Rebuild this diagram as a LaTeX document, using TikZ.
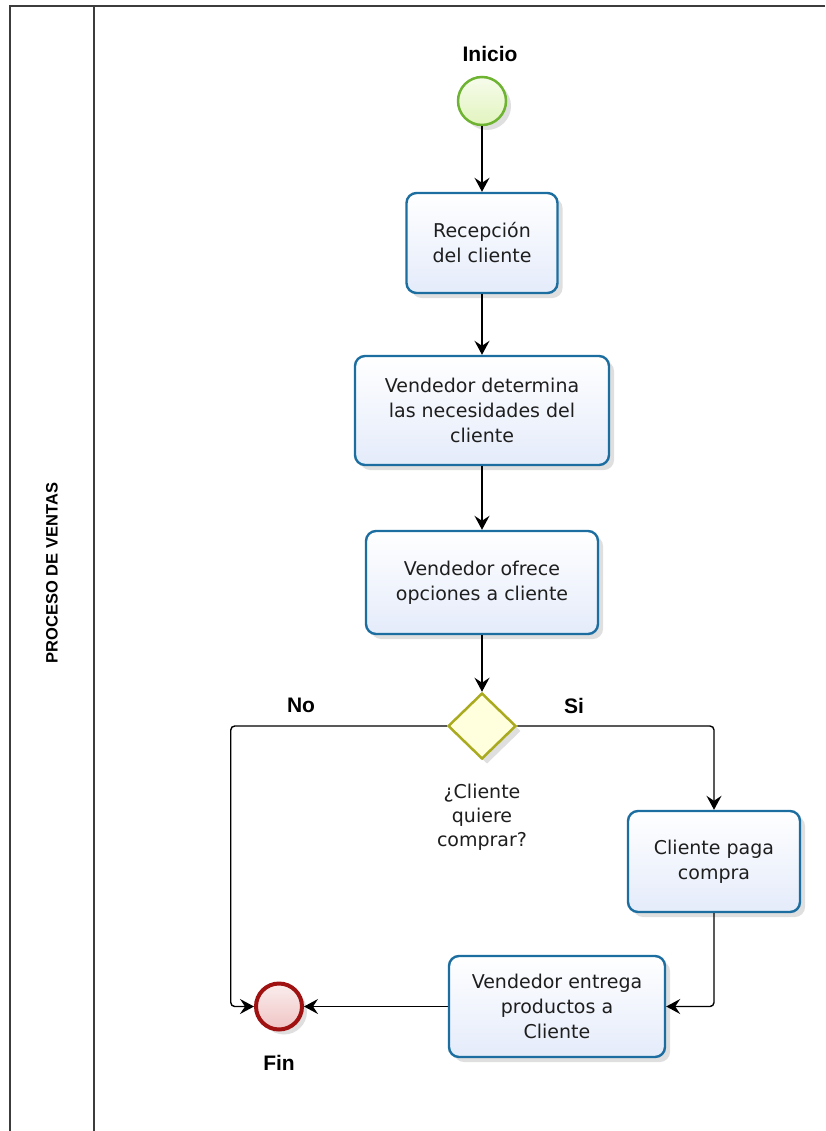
\documentclass[tikz,border=0pt]{standalone}
\usepackage{fontspec}
\setmainfont{DejaVu Sans}
\newfontfamily\lblfont{Liberation Sans}
\usetikzlibrary{shapes.geometric,shadows,arrows.meta}
\definecolor{taskblue}{RGB}{28,110,160}
\definecolor{taskfill}{RGB}{228,235,250}
\definecolor{startgreen}{RGB}{110,180,50}
\definecolor{startfill}{RGB}{226,244,190}
\definecolor{endred}{RGB}{160,18,18}
\definecolor{endfill}{RGB}{240,196,196}
\definecolor{gwolive}{RGB}{170,170,30}
\definecolor{gwfill}{RGB}{255,255,222}
\definecolor{framegray}{RGB}{60,60,60}
\definecolor{txt}{RGB}{30,30,30}
\begin{document}
\begin{tikzpicture}[x=1pt,y=-1pt,
  shade/.style={drop shadow={opacity=0.25,shadow xshift=5pt,shadow yshift=-5pt}},
  task/.style={shade,draw=taskblue,line width=2.4pt,rounded corners=10pt,
    top color=white,bottom color=taskfill,align=center,inner sep=0pt,
    text=txt,font=\fontsize{19}{25}\selectfont},
  startev/.style={shade,circle,draw=startgreen,line width=2.5pt,minimum size=48pt,
    inner sep=0pt,top color=white!70!startfill,bottom color=startfill},
  endev/.style={shade,circle,draw=endred,line width=4pt,minimum size=46pt,
    inner sep=0pt,top color=white!70!endfill,bottom color=endfill},
  gateway/.style={shade,diamond,draw=gwolive,line width=2.5pt,minimum width=68pt,
    minimum height=66pt,inner sep=0pt,fill=gwfill},
  lbl/.style={font=\lblfont\bfseries\fontsize{21}{25}\selectfont,text=black},
  gwtext/.style={align=center,text=txt,font=\fontsize{19}{24}\selectfont},
  conn/.style={line width=1.4pt,draw=black,rounded corners=4pt,
    -{Stealth[length=14pt,width=15pt,inset=5pt]}},
  frame/.style={draw=framegray,line width=1.6pt}]
\useasboundingbox (0,0) rectangle (825,1131);
\fill[white] (0,0) rectangle (825,1131);
% pool frame
\draw[frame] (825,6) -- (10,6) -- (10,1131);
\draw[frame] (94,6) -- (94,1131);
\node[rotate=90,font=\lblfont\bfseries\fontsize{16.5}{18}\selectfont] (lane) at (52,573) {PROCESO DE VENTAS};
% events and tasks
\node[startev] (start) at (482,101) {};
\node[lbl] (inicio) at (490,54) {Inicio};
\node[task,minimum width=151pt,minimum height=100pt] (b1) at (482,243) {Recepción\\del cliente};
\node[task,minimum width=254pt,minimum height=109pt] (b2) at (482,410.5) {Vendedor determina\\las necesidades del\\cliente};
\node[task,minimum width=232pt,minimum height=103pt] (b3) at (482,582.5) {Vendedor ofrece\\opciones a cliente};
\node[gateway] (gw) at (482,726) {};
\node[gwtext] (gwlbl) at (482,817) {¿Cliente\\quiere\\comprar?};
\node[lbl] (no) at (301,705) {No};
\node[lbl] (si) at (574,706) {Si};
\node[task,minimum width=172pt,minimum height=101pt] (b4) at (714,861.5) {Cliente paga\\compra};
\node[task,minimum width=216pt,minimum height=101pt] (b5) at (557,1006.5) {Vendedor entrega\\productos a\\Cliente};
\node[endev] (endc) at (279,1006.5) {};
\node[lbl] (fin) at (279,1063) {Fin};
% connectors
\draw[conn] (start.south) -- (b1.north);
\draw[conn] (b1.south) -- (b2.north);
\draw[conn] (b2.south) -- (b3.north);
\draw[conn] (b3.south) -- (gw.north);
\draw[conn] (gw.west) -- ++(-216,0) |- (endc.west);
\draw[conn] (gw.east) -| (b4.north);
\draw[conn] (b4.south) |- (b5.east);
\draw[conn] (b5.west) -- (endc.east);
\end{tikzpicture}
\end{document}
